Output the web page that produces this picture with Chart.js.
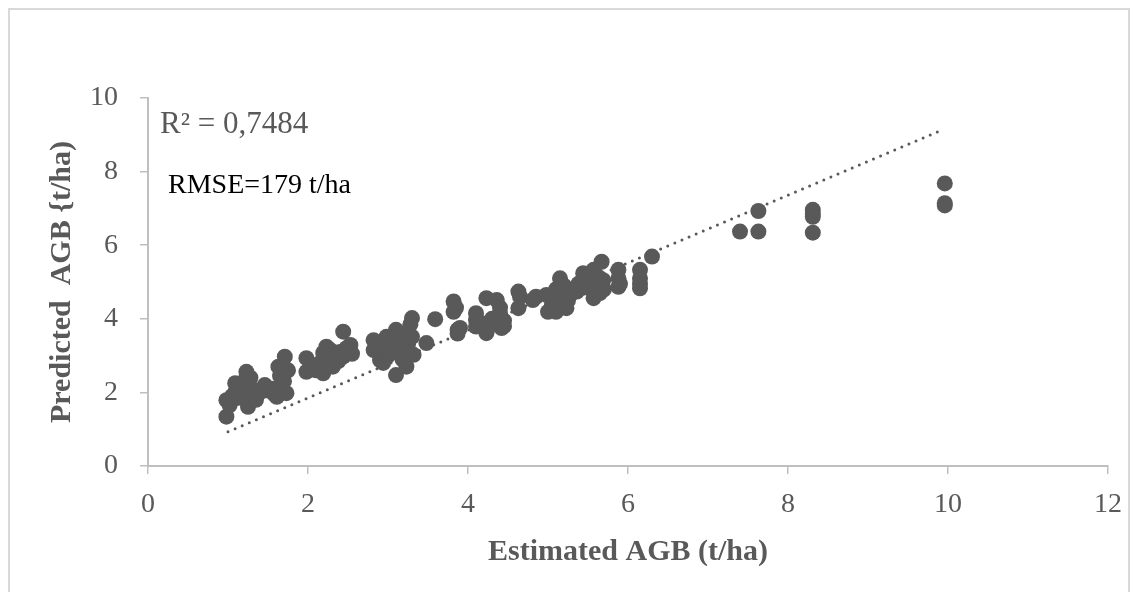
<!DOCTYPE html>
<html>
<head>
<meta charset="utf-8">
<script src="https://cdn.jsdelivr.net/npm/chart.js@4.4.1/dist/chart.umd.min.js"></script>
<style>
  html, body { margin: 0; padding: 0; background: #fff; }
  #wrap { position: relative; width: 1141px; height: 592px; overflow: hidden; }
  #frame { position: absolute; left: 8px; top: 8px; width: 1122px; height: 600px;
           border: 2px solid #d9d9d9; box-sizing: border-box; }
  #chart { position: absolute; left: 0; top: 0; }
</style>
</head>
<body>
<div id="wrap">
  <div id="frame"></div>
  <canvas id="chart" width="1141" height="592"></canvas>
</div>
<script>
// Estimated vs predicted AGB (t/ha)
const estimatedAGB = [
  0.98, 0.98, 1.02, 1.05, 1.09, 1.10, 1.12, 1.15, 1.18, 1.20, 1.23, 1.25, 1.25, 1.28, 1.30,
  1.32, 1.35, 1.40, 1.46, 1.50, 1.55, 1.58, 1.61, 1.63, 1.65, 1.65, 1.71, 1.73, 1.70, 1.75,
  1.98, 1.98, 2.05, 2.10, 2.15, 2.19, 2.19, 2.23, 2.25, 2.28, 2.31, 2.35, 2.38, 2.40, 2.44,
  2.44, 2.48, 2.53, 2.55,
  2.82, 2.82, 2.85, 2.90, 2.94, 2.95, 2.98, 3.00, 3.03, 3.05, 3.10, 3.10, 3.12, 3.15, 3.18,
  3.20, 3.23, 3.25, 3.30, 3.30, 3.32, 3.28,
  3.48, 3.59, 3.82, 3.82, 3.85, 3.87, 3.87, 3.90, 4.10, 4.10, 4.10, 4.15, 4.23, 4.23, 4.25,
  4.30, 4.36, 4.40, 4.42, 4.45, 4.40, 4.45,
  4.63, 4.63, 4.65, 4.81, 4.85, 4.98, 5.00, 5.05, 5.10, 5.10, 5.15, 5.15, 5.20, 5.23, 5.25,
  5.30, 5.36, 5.38, 5.44, 5.45, 5.50, 5.57, 5.57, 5.60, 5.62, 5.67, 5.69, 5.70, 5.65,
  5.88, 5.88, 5.88, 5.90, 6.15, 6.15, 6.15, 6.15, 6.30,
  7.40, 7.63, 7.63, 8.31, 8.31, 8.31, 8.31, 9.96, 9.96, 9.96
];
const predictedAGB = [
  1.34, 1.79, 1.65, 1.90, 2.25, 2.05, 1.85, 2.20, 2.00, 2.30, 2.56, 1.61, 1.85, 2.40, 2.10,
  1.95, 1.80, 2.00, 2.20, 2.05, 2.10, 1.95, 1.88, 2.70, 2.15, 2.45, 2.97, 1.98, 2.30, 2.60,
  2.93, 2.56, 2.70, 2.60, 2.80, 3.07, 2.52, 3.24, 2.90, 3.15, 2.70, 3.00, 2.85, 3.10, 3.65,
  2.97, 3.20, 3.29, 3.05,
  3.42, 3.15, 3.30, 2.88, 2.80, 3.20, 3.51, 3.00, 3.07, 3.35, 3.70, 2.47, 3.55, 3.15, 2.90,
  3.60, 2.70, 3.30, 4.02, 3.51, 3.02, 3.85,
  3.34, 3.99, 4.47, 4.19, 4.30, 3.70, 3.60, 3.75, 3.97, 4.15, 3.79, 3.90, 4.56, 3.61, 3.75,
  4.00, 4.51, 4.15, 3.75, 3.95, 4.30, 3.80,
  4.74, 4.29, 4.60, 4.51, 4.60, 4.65, 4.19, 4.40, 4.19, 4.80, 5.10, 4.60, 4.90, 4.29, 4.50,
  4.70, 4.74, 4.95, 5.24, 4.85, 5.00, 4.56, 5.33, 4.90, 5.15, 5.55, 5.05, 4.80, 4.70,
  5.33, 4.87, 5.10, 4.95, 5.33, 5.10, 4.83, 4.95, 5.69,
  6.37, 6.37, 6.93, 6.96, 6.85, 6.77, 6.34, 7.68, 7.14, 7.08
];
// dotted linear trendline end points
const trendX = [1.0, 9.95];
const trendY = [0.93, 9.15];

const xTicks = [0, 2, 4, 6, 8, 10, 12];
const yTicks = [0, 2, 4, 6, 8, 10];

const GREY = "#595959";
const AXIS = "#bfbfbf";
const SERIF = "'Liberation Serif', 'Times New Roman', serif";

const points = estimatedAGB.map((x, i) => ({ x, y: predictedAGB[i] }));
const trend = trendX.map((x, i) => ({ x, y: trendY[i] }));

// R² and RMSE notes in the top-left corner of the plot
const notesPlugin = {
  id: "notes",
  afterDraw(chart) {
    const c = chart.ctx;
    c.save();
    c.textBaseline = "alphabetic";
    c.textAlign = "left";
    c.fillStyle = GREY;
    c.font = "31px " + SERIF;
    c.fillText("R² = 0,7484", 160, 133);
    c.fillStyle = "#000";
    c.font = "28px " + SERIF;
    c.fillText("RMSE=179 t/ha", 168, 193);
    c.restore();
  },
};

new Chart(document.getElementById("chart"), {
  type: "scatter",
  data: {
    datasets: [
      {
        label: "Trend",
        data: trend,
        showLine: true,
        borderColor: GREY,
        borderWidth: 3,
        borderDash: [0, 7.7],
        borderCapStyle: "round",
        pointRadius: 0,
        order: 2,
      },
      {
        label: "AGB",
        data: points,
        backgroundColor: GREY,
        borderColor: GREY,
        pointRadius: 8,
        pointBorderWidth: 0,
        order: 1,
      },
    ],
  },
  options: {
    responsive: false,
    animation: false,
    layout: { padding: { top: 98, right: 33, left: 0, bottom: 0 } },
    plugins: { legend: { display: false }, tooltip: { enabled: false } },
    scales: {
      x: {
        type: "linear",
        min: 0,
        max: 12,
        afterBuildTicks: (s) => { s.ticks = xTicks.map((v) => ({ value: v })); },
        afterFit: (s) => { s.height = 126; },
        grid: { display: true, drawOnChartArea: false, drawTicks: true, tickLength: 8, color: AXIS, lineWidth: 1.5 },
        border: { display: true, color: AXIS, width: 2 },
        ticks: { color: GREY, font: { family: SERIF, size: 28 }, padding: 14, maxRotation: 0 },
        title: {
          display: true,
          text: "Estimated AGB (t/ha)",
          color: GREY,
          font: { family: SERIF, size: 30, weight: "bold" },
          padding: { top: 22, bottom: 22 },
        },
      },
      y: {
        type: "linear",
        min: 0,
        max: 10,
        afterBuildTicks: (s) => { s.ticks = yTicks.map((v) => ({ value: v })); },
        afterFit: (s) => { s.width = 148; },
        grid: { display: true, drawOnChartArea: false, drawTicks: true, tickLength: 8, color: AXIS, lineWidth: 1.5 },
        border: { display: true, color: AXIS, width: 2 },
        ticks: { color: GREY, font: { family: SERIF, size: 28 }, padding: 22 },
        title: {
          display: true,
          text: "Predicted  AGB {t/ha)",
          color: GREY,
          font: { family: SERIF, size: 30, weight: "bold" },
          padding: { top: 44, bottom: 44 },
        },
      },
    },
  },
  plugins: [notesPlugin],
});
</script>
</body>
</html>
